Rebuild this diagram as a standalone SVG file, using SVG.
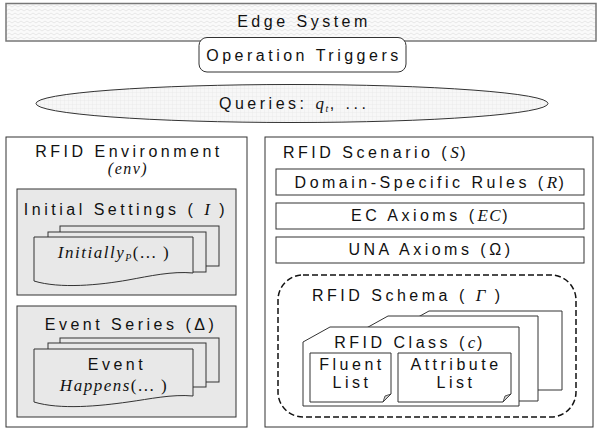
<svg xmlns="http://www.w3.org/2000/svg" width="599" height="429" viewBox="0 0 599 429">
<defs>
<pattern id="hatch" width="6" height="4" patternUnits="userSpaceOnUse">
<rect width="6" height="4" fill="#fafafa"/>
<path d="M0,3 L3,1 L6,3" fill="none" stroke="#e2e2e2" stroke-width="0.8"/>
</pattern>
<pattern id="grid" width="4" height="4" patternUnits="userSpaceOnUse">
<rect width="4" height="4" fill="#f7f7f7"/>
<path d="M0,0 H4 M0,0 V4" fill="none" stroke="#e4e4e4" stroke-width="0.7"/>
</pattern>
<style>
.t{font-family:"Liberation Sans",Arial,sans-serif;font-size:16px;letter-spacing:3.5px;fill:#111}
.m{font-family:"Liberation Serif","Times New Roman",serif;font-style:italic;letter-spacing:1.5px}
.box{fill:#fff;stroke:#333;stroke-width:1}
.gray{fill:#e8e8e8;stroke:#333;stroke-width:1}
</style>
</defs>
<g id="edge-system">
<rect x="6" y="3.5" width="590" height="37.5" fill="url(#hatch)" stroke="#777" stroke-width="1.5"/>
<text class="t" x="304" y="27" text-anchor="middle">Edge System</text>
</g>
<g id="operation-triggers">
<rect x="199" y="37.5" width="207" height="34.5" rx="8" class="box"/>
<text class="t" x="304" y="61" text-anchor="middle">Operation Triggers</text>
</g>
<g id="queries">
<ellipse cx="292" cy="103.5" rx="256" ry="19" fill="url(#grid)" stroke="#333" stroke-width="1"/>
<text class="t" x="219" y="109">Queries: <tspan class="m" font-size="17">q</tspan><tspan class="m" font-size="10" dy="3">t</tspan><tspan dy="-3">, ...</tspan></text>
</g>
<g id="rfid-environment">
<rect x="6" y="137" width="241" height="290" class="box"/>
<text class="t" x="129" y="157" text-anchor="middle">RFID Environment</text>
<text class="t m" x="128" y="174" text-anchor="middle" font-size="17">(env)</text>
</g>
<g id="initial-settings">
<rect x="17" y="189" width="219" height="106" class="gray"/>
<text class="t" x="126" y="215" text-anchor="middle">Initial Settings ( <tspan class="m" font-size="17">I</tspan> )</text>
<rect x="60" y="226" width="159" height="40" class="gray"/>
<rect x="48" y="232" width="158" height="40" class="gray"/>
<path d="M34,237 H193 V273 C172,271 150,276 128,280 C100,285 60,289 34,281 Z" class="gray"/>
<text class="m" x="114" y="258" text-anchor="middle" font-size="17" fill="#111">Initially<tspan font-size="10" dy="3">P</tspan><tspan dy="-3" font-style="normal">(... )</tspan></text>
</g>
<g id="event-series">
<rect x="17" y="306" width="219" height="111" class="gray"/>
<text class="t" x="131" y="330" text-anchor="middle">Event Series (Δ)</text>
<rect x="60" y="338" width="159" height="44" class="gray"/>
<rect x="48" y="343" width="158" height="44" class="gray"/>
<path d="M34,349 H193 V396 C172,394 150,399 128,402 C100,406 60,410 34,402 Z" class="gray"/>
<text class="t" x="117" y="370" text-anchor="middle">Event</text>
<text class="m" x="114" y="391" text-anchor="middle" font-size="17" fill="#111" letter-spacing="2.5">Happens<tspan font-style="normal">(... )</tspan></text>
</g>
<g id="rfid-scenario">
<rect x="265" y="137" width="328" height="290" class="box"/>
<text class="t" x="283" y="158">RFID Scenario (<tspan class="m" font-size="17">S</tspan>)</text>
</g>
<g id="domain-rules">
<rect x="276" y="169" width="308" height="26" class="box"/>
<text class="t" x="431" y="188" text-anchor="middle">Domain-Specific Rules (<tspan class="m" font-size="17">R</tspan>)</text>
</g>
<g id="ec-axioms">
<rect x="276" y="203" width="308" height="26" class="box"/>
<text class="t" x="431" y="221" text-anchor="middle">EC Axioms (<tspan class="m" font-size="17">EC</tspan>)</text>
</g>
<g id="una-axioms">
<rect x="276" y="237" width="308" height="26" class="box"/>
<text class="t" x="431" y="255" text-anchor="middle">UNA Axioms (Ω)</text>
</g>
<g id="rfid-schema">
<rect x="278" y="275" width="298" height="142" rx="25" fill="none" stroke="#111" stroke-width="1.5" stroke-dasharray="6,3"/>
<text class="t" x="312" y="301">RFID Schema ( <tspan class="m" font-size="17">Γ</tspan> )</text>
<path d="M402,326 L429,311 H562 V390 H402 Z" class="box"/>
<path d="M361,331 L388,316 H538 V401 H361 Z" class="box"/>
</g>
<g id="rfid-class">
<path d="M303,342 L330,327 H519 V406 H303 Z" class="box"/>
<text class="t" x="410" y="348" text-anchor="middle">RFID Class (<tspan class="m" font-size="17">c</tspan>)</text>
</g>
<g id="fluent-list">
<path d="M310,353 H391 V394 L383,402 H310 Z" class="box"/>
<path d="M383,402 L385,396 L391,394 Z" fill="#ccc" stroke="#333" stroke-width="0.8"/>
<text class="t" x="352" y="370" text-anchor="middle">Fluent</text>
<text class="t" x="352" y="388" text-anchor="middle">List</text>
</g>
<g id="attribute-list">
<path d="M398,353 H511 V394 L503,402 H398 Z" class="box"/>
<path d="M503,402 L505,396 L511,394 Z" fill="#ccc" stroke="#333" stroke-width="0.8"/>
<text class="t" x="456" y="370" text-anchor="middle">Attribute</text>
<text class="t" x="456" y="388" text-anchor="middle">List</text>
</g>
<g id="connectors"></g>
</svg>
